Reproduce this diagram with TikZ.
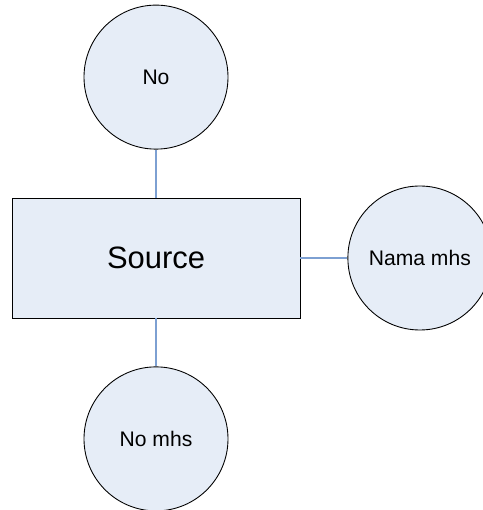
\documentclass[tikz,border=0pt]{standalone}
\usepackage{xcolor}
\usepackage{fontspec}
\setmainfont{Liberation Sans}
\usepackage{tikz}
\usetikzlibrary{positioning}

\definecolor{shapefill}{RGB}{230,237,247}
\definecolor{linkblue}{RGB}{125,160,210}

\begin{document}
\begin{tikzpicture}[
                node distance=0.96cm,
                every node/.style={
                        draw=black,
                        fill=shapefill,
                        line width=0.5pt,
                        align=center
                    },
                entity/.style={
                        rectangle,
                        minimum width=5.76cm,
                        minimum height=2.4cm,
                        font=\fontsize{17.6}{20}\selectfont
                    },
                attrib/.style={
                        circle,
                        minimum size=2.88cm,
                        inner sep=0pt,
                        font=\fontsize{12}{14}\selectfont
                    }
            ]

            \useasboundingbox (-3.12,-5.04) rectangle (6.52,5.16);

            \node[entity] (src) {Source};
            \node[attrib] (no) [above=of src] {No};
            \node[attrib] (nama) [right=0.94cm of src] {Nama mhs};
            \node[attrib] (nomhs) [below=of src] {No mhs};


            \draw[linkblue, line width=0.6pt] (src)--(no);
            \draw[linkblue, line width=0.6pt] (src)--(nama);
            \draw[linkblue, line width=0.6pt] (src)--(nomhs);


        \end{tikzpicture}
\end{document}
